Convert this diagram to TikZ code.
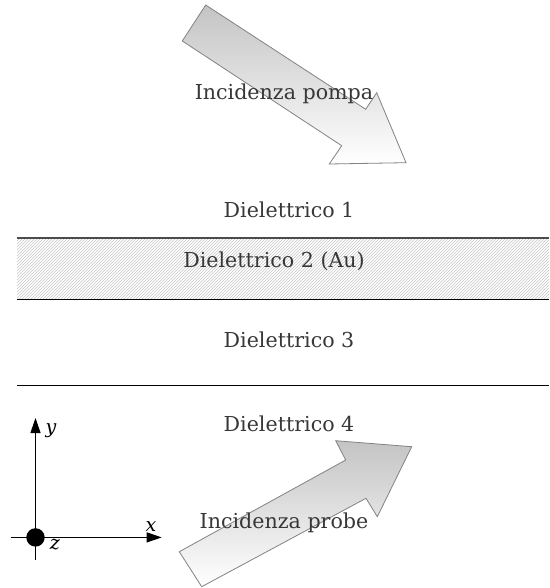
\documentclass[tikz,border=0pt]{standalone}
\usepackage{fontspec}
\setmainfont{DejaVu Serif}
\usetikzlibrary{arrows.meta,patterns}
\definecolor{txt}{RGB}{55,55,55}
\definecolor{arrowtop}{RGB}{196,196,196}
\definecolor{edge}{RGB}{130,130,130}
\tikzset{
  lbl/.style={anchor=base,text=txt,font=\fontsize{20.6}{24}\selectfont,inner sep=0pt},
  axlbl/.style={anchor=base,text=black,font=\fontsize{19}{21}\selectfont\itshape,inner sep=0pt},
  bigarrow/.style={draw=edge,line width=0.8pt,top color=arrowtop,bottom color=white,line join=miter},
  layerline/.style={line width=1pt,black},
  axis/.style={line width=1pt,-{Triangle[length=15pt,width=10pt]}}
}
\begin{document}
\begin{tikzpicture}[x=1pt,y=-1pt]
\useasboundingbox (0,0) rectangle (549,588);
% layer 2 hatched
\fill[pattern=north east lines,pattern color=gray!45] (17,238) rectangle (549,299);
\draw[line width=1.5pt,black!70] (17,238) -- (549,238);
\draw[layerline] (17,299) -- (549,299);
\draw[layerline] (17,385) -- (549,385);
% pump arrow
\draw[bigarrow] (205.7,5) -- (365.7,109.3) -- (376.7,92.7) -- (406,162.7) -- (329.3,164) -- (341.7,145.7) -- (182.3,41) -- cycle;
% probe arrow
\draw[bigarrow] (201.7,586.7) -- (366,498.3) -- (377.3,516.7) -- (411.7,446.7) -- (335.7,440.7) -- (345.7,460) -- (179.3,551.7) -- cycle;
% labels
\node[lbl] (pompa) at (284,99.3) {Incidenza pompa};
\node[lbl] (d1) at (289,217.7) {Dielettrico 1};
\node[lbl] (d2) at (274,267.7) {Dielettrico 2 (Au)};
\node[lbl] (d3) at (289,347) {Dielettrico 3};
\node[lbl] (d4) at (289,431.7) {Dielettrico 4};
\node[lbl] (probe) at (284,528.3) {Incidenza probe};
% axes
\coordinate (O) at (35.5,537.4);
\coordinate (Ystart) at (35.5,560);
\coordinate (Yend) at (35.5,418);
\coordinate (Xstart) at (10.7,537.4);
\coordinate (Xend) at (161.7,537.4);
\draw[axis] (Ystart) -- (Yend);
\draw[axis] (Xstart) -- (Xend);
\fill[black] (O) circle (9.2);
\node[axlbl] (ylab) at (51,433) {y};
\node[axlbl] (xlab) at (151,531) {x};
\node[axlbl] (zlab) at (55,549) {z};
\end{tikzpicture}
\end{document}
